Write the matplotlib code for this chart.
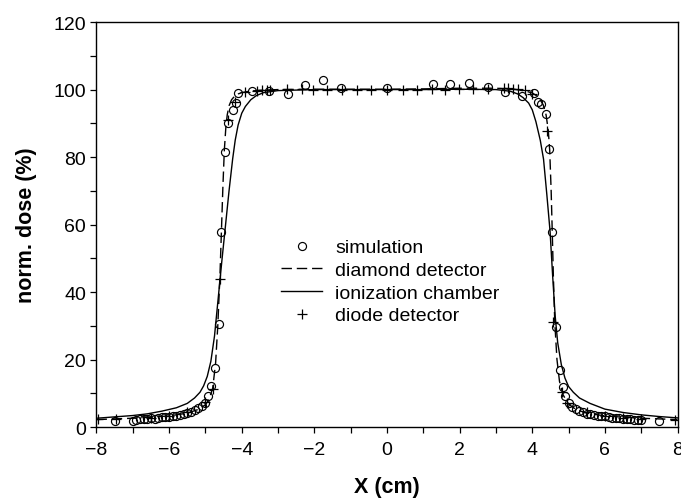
import matplotlib
matplotlib.use("Agg")
import matplotlib.pyplot as plt
from matplotlib.ticker import MultipleLocator

plt.rcParams["font.family"] = ["Liberation Sans", "DejaVu Sans"]

# simulation (open circles)
sim_x = [-7.5, -7.0, -6.9, -6.8, -6.7, -6.6, -6.5, -6.4, -6.3, -6.2, -6.1,
         -6.0, -5.9, -5.8, -5.7, -5.6, -5.5, -5.4, -5.3, -5.2, -5.1, -5.0,
         -4.93, -4.84, -4.74, -4.64, -4.57, -4.47, -4.37, -4.23, -4.15, -4.09,
         -3.72, -3.25, -2.73, -2.26, -1.75, -1.26, 0.0, 1.28, 1.74, 2.26, 2.78,
         3.24, 3.73, 4.05, 4.15, 4.24, 4.38, 4.45, 4.54, 4.64, 4.75, 4.84, 4.91,
         5.0, 5.1, 5.2, 5.3, 5.4, 5.5, 5.6, 5.7, 5.8, 5.9, 6.0, 6.1, 6.2, 6.3,
         6.4, 6.5, 6.6, 6.7, 6.8, 6.9, 7.0, 7.5]
sim_y = [1.7, 1.9, 2.1, 2.3, 2.4, 2.5, 2.6, 2.5, 2.7, 2.9, 3.0,
         3.0, 3.3, 3.4, 3.6, 3.9, 4.1, 4.5, 4.9, 5.5, 6.2, 7.2,
         9.2, 12.1, 17.4, 30.4, 57.8, 81.5, 90.0, 94.0, 96.0, 98.9,
         99.6, 99.5, 98.7, 101.5, 102.8, 100.6, 100.5, 101.6, 101.6, 102.0, 100.8,
         99.2, 98.0, 99.1, 96.2, 95.8, 92.7, 82.5, 57.9, 29.7, 17.0, 11.9, 9.3,
         7.0, 5.8, 5.2, 4.7, 4.3, 4.0, 3.8, 3.6, 3.4, 3.3, 3.2, 3.0, 2.8, 2.7,
         2.6, 2.5, 2.4, 2.3, 2.2, 2.1, 2.0, 1.7]

# diamond detector (dashed)
diamond_x = [-8.0, -7.0, -6.5, -6.0, -5.5, -5.2, -5.0, -4.9, -4.8, -4.72,
             -4.66, -4.6, -4.56, -4.52, -4.48, -4.44, -4.4, -4.35, -4.28, -4.2,
             -4.1, -4.0, -3.8, -3.5, -3.0, -2.0, -1.0, 0.0, 1.0, 2.0, 3.0, 3.5,
             3.8, 4.0, 4.1, 4.2, 4.3, 4.38, 4.44, 4.48, 4.52, 4.55, 4.58, 4.62,
             4.68, 4.75, 4.85, 5.0, 5.2, 5.5, 6.0, 6.5, 7.0, 8.0]
diamond_y = [2.2, 2.6, 2.9, 3.3, 4.1, 5.2, 6.6, 8.2, 11.5, 19.0,
             30.0, 45.0, 58.0, 71.0, 82.0, 88.5, 92.5, 95.2, 97.0, 98.0,
             98.7, 99.1, 99.5, 99.8, 100.0, 100.1, 100.1, 100.1, 100.2, 100.4, 100.4, 100.1,
             99.6, 99.0, 98.3, 97.3, 95.5, 92.5, 88.0, 82.0, 70.0, 58.0, 45.0, 31.0,
             20.0, 13.5, 9.5, 6.8, 5.2, 4.1, 3.3, 2.9, 2.6, 2.2]

# ionization chamber (solid)
chamber_x = [-8.0, -7.5, -7.0, -6.6, -6.2, -5.8, -5.5, -5.3, -5.15, -5.05,
             -4.95, -4.85, -4.75, -4.65, -4.55, -4.45, -4.35, -4.25, -4.18, -4.1,
             -4.0, -3.9, -3.75, -3.6, -3.4, -3.0, -2.0, -1.0, 0.0, 1.0, 2.0, 3.0,
             3.4, 3.6, 3.75, 3.9, 4.0, 4.1, 4.22, 4.31, 4.4, 4.49, 4.56, 4.63,
             4.7, 4.8, 4.9, 5.0, 5.13, 5.3, 5.59, 6.0, 6.5, 7.0, 7.5, 8.0]
chamber_y = [2.6, 3.0, 3.4, 3.9, 4.7, 5.7, 7.0, 8.6, 10.3, 12.2,
             15.0, 19.5, 27.0, 38.0, 49.0, 59.5, 70.0, 79.5, 85.0, 89.5,
             93.0, 95.0, 97.0, 98.2, 99.1, 99.7, 100.0, 100.0, 100.0, 100.0, 100.1, 100.0,
             99.5, 98.7, 97.6, 96.0, 94.0, 90.5, 85.0, 79.4, 69.0, 58.0, 45.0, 33.0,
             25.0, 18.5, 14.5, 12.0, 10.3, 8.6, 7.0, 5.3, 4.3, 3.6, 3.1, 2.7]

# diode detector (crosses)
diode_x = [-7.95, -7.45, -6.5, -6.0, -5.5, -5.0, -4.78, -4.6, -4.39, -4.18,
           -3.91, -3.59, -3.45, -3.31, -3.22, -2.75, -2.35, -2.05, -1.64, -1.23,
           -0.82, -0.43, 0.0, 0.45, 0.82, 1.23, 1.6, 1.97, 2.38, 2.78,
           3.21, 3.34, 3.48, 3.62, 3.8, 3.99, 4.4, 4.58, 4.82, 4.95,
           5.5, 6.0, 6.5, 7.0, 7.92]
diode_y = [2.5, 2.5, 2.8, 3.3, 4.3, 7.5, 11.3, 43.9, 91.0, 96.4,
           99.2, 99.7, 99.8, 99.9, 99.9, 100.1, 100.1, 100.0, 100.0, 100.0,
           100.0, 100.0, 100.0, 100.0, 100.0, 100.1, 99.9, 100.2, 100.3, 100.3,
           100.5, 100.4, 100.3, 100.1, 99.8, 98.8, 87.8, 31.0, 10.3, 7.2,
           4.3, 3.4, 2.8, 2.4, 2.2]

fig = plt.figure(figsize=(6.81, 5.02), dpi=100)
ax = fig.add_axes([0.1417, 0.1474, 0.8532, 0.8066])

ax.plot(sim_x, sim_y, linestyle="none", marker="o", markersize=5.8,
        markerfacecolor="none", markeredgecolor="black", markeredgewidth=0.85,
        label="simulation")
ax.plot(diamond_x, diamond_y, color="black", linewidth=1.0,
        linestyle=(0, (7.5, 3.5)), label="diamond detector")
ax.plot(chamber_x, chamber_y, color="black", linewidth=1.0,
        label="ionization chamber")
ax.plot(diode_x, diode_y, linestyle="none", marker="+", markersize=7.5,
        markeredgecolor="black", markeredgewidth=0.9, label="diode detector")

ax.set_xlim(-8, 8)
ax.set_ylim(0, 120)
ax.xaxis.set_major_locator(MultipleLocator(2))
ax.xaxis.set_minor_locator(MultipleLocator(1))
ax.yaxis.set_major_locator(MultipleLocator(20))
ax.yaxis.set_minor_locator(MultipleLocator(10))
ax.tick_params(which="both", direction="out", length=4, width=0.9,
               labelsize=14, top=False, right=False)
ax.tick_params(axis="x", pad=6)

for sp in ax.spines.values():
    sp.set_linewidth(1.0)

ax.set_xlabel("X (cm)", fontsize=15.5, fontweight="bold", labelpad=13)
ax.set_ylabel("norm. dose (%)", fontsize=15.5, fontweight="bold", labelpad=12)

ax.legend(loc="upper left", bbox_to_anchor=(0.317, 0.465), frameon=False,
          fontsize=14, handlelength=2.15, handletextpad=0.65,
          labelspacing=0.26, borderpad=0, borderaxespad=0)

fig.savefig("out.png", dpi=100)
